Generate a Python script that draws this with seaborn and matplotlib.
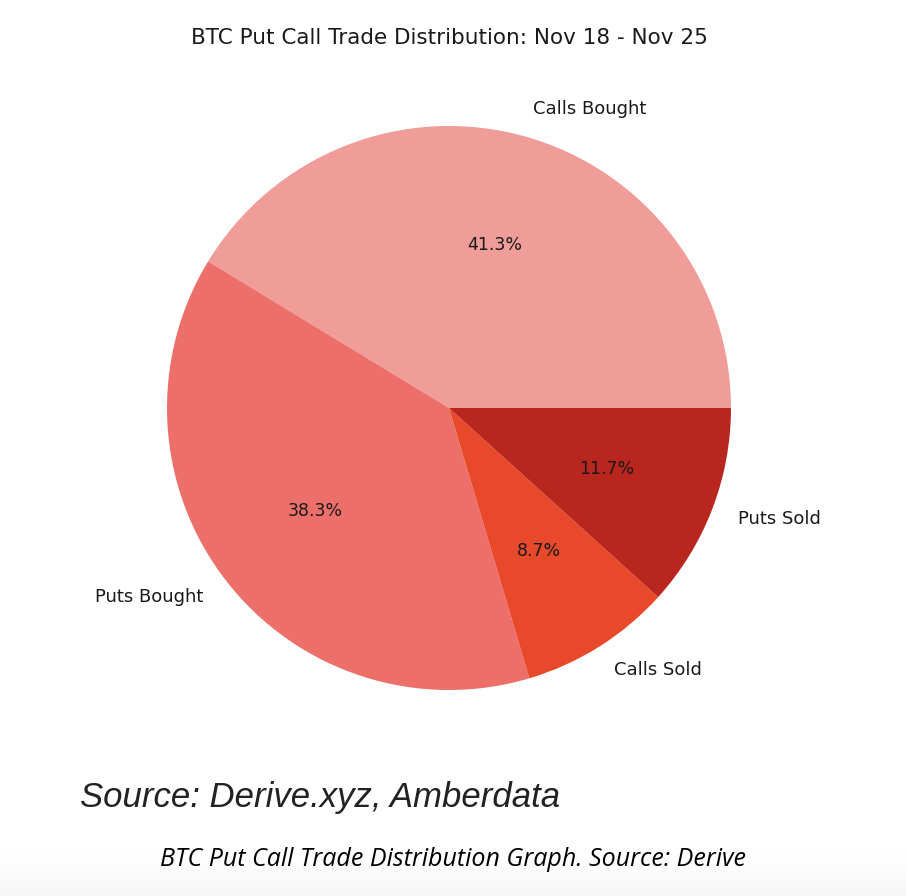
import numpy as np
import seaborn as sns
import matplotlib.pyplot as plt

labels = ['Calls Bought', 'Puts Bought', 'Calls Sold', 'Puts Sold']
shares = [41.3, 38.3, 8.7, 11.7]
colors = sns.color_palette(['#f09c99', '#ec6f69', '#e8492a', '#b9261d'])

sns.set_style('white')

fig = plt.figure(figsize=(9.06, 8.96), dpi=100)

# light grey fade at the very bottom of the screenshot
bg = fig.add_axes([0, 0, 1, 0.05], zorder=-1)
grad = np.linspace(1, 0, 50).reshape(-1, 1)
bg.imshow(grad, aspect='auto', cmap='Greys', vmin=0, vmax=14,
          origin='lower', extent=[0, 1, 0, 1])
bg.axis('off')

cx, cy, r = 449, 408, 282
ax = fig.add_axes([(cx - r) / 906, (896 - cy - r) / 896, 2 * r / 906, 2 * r / 896])
wedges, texts, autotexts = ax.pie(
    shares, labels=labels, colors=colors, autopct='%1.1f%%', startangle=0,
    wedgeprops={'linewidth': 0}, textprops={'fontsize': 13, 'color': '#1a1a1a'})
for t in autotexts:
    t.set_fontsize(12.5)
ax.set_xlim(-1, 1)
ax.set_ylim(-1, 1)
ax.set_aspect('equal')

fig.text(449 / 906, 1 - 38 / 896, 'BTC Put Call Trade Distribution: Nov 18 - Nov 25',
         ha='center', va='center', fontsize=15.5, color='#1a1a1a')

fig.text(80 / 906, 1 - 797 / 896, 'Source: Derive.xyz, Amberdata',
         ha='left', va='center', fontsize=25, style='italic',
         family='Liberation Sans', color='#222222')

fig.text(453 / 906, 1 - 859 / 896, 'BTC Put Call Trade Distribution Graph. Source: Derive',
         ha='center', va='center', fontsize=18, style='italic',
         family='Open Sans', color='#000000')

fig.savefig('out.png', dpi=100)
